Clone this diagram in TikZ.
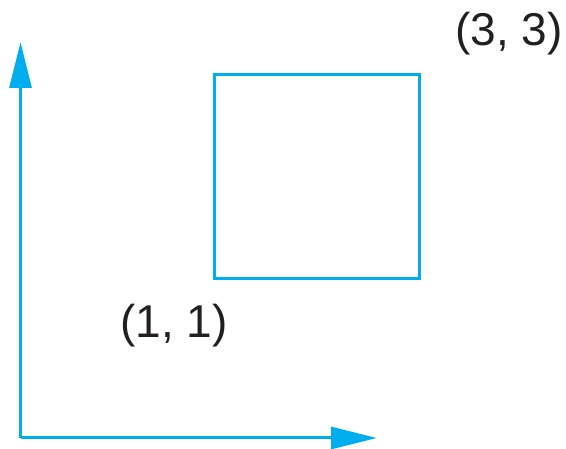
\documentclass[tikz,border=0pt]{standalone}
\usepackage{fontspec}
\setmainfont{Liberation Sans}
\usetikzlibrary{arrows.meta}
\definecolor{axiscyan}{HTML}{00AEEF}
\definecolor{labelink}{HTML}{231F20}
\begin{document}
\begin{tikzpicture}[x=1pt,y=-1pt,>={Triangle[length=46pt,width=22pt]},
  every node/.style={font=\fontsize{46}{50}\selectfont,text=labelink,inner sep=0pt}]
  \useasboundingbox (0,0) rectangle (566,449);
  % axes
  \coordinate (origin) at (20.5,438);
  \coordinate (ytip) at (20.5,42);
  \coordinate (xtip) at (377,438);
  \draw[axiscyan,line width=3pt,->] (origin) -- (ytip);
  \draw[axiscyan,line width=3pt,->] (origin) -- (xtip);
  % square
  \draw[axiscyan,line width=3pt] (214.5,74.5) rectangle (419.5,278.5);
  \node (lowcorner) at (174,326) {(1, 1)};
  \node (highcorner) at (509,34) {(3, 3)};
\end{tikzpicture}
\end{document}
